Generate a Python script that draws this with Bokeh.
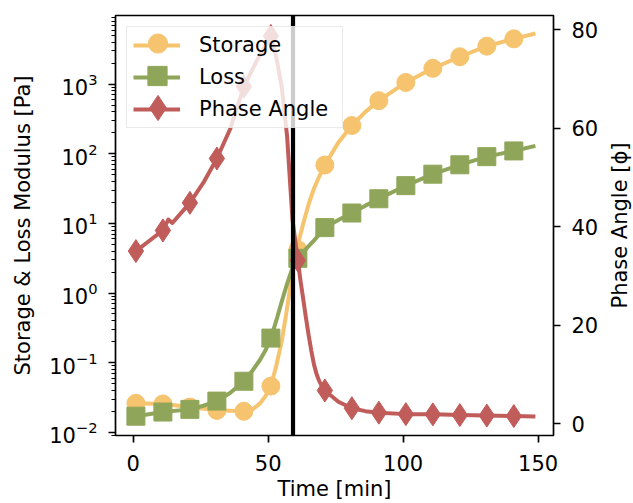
from bokeh.plotting import figure
from bokeh.layouts import row
from bokeh.models import (Range1d, LinearAxis, LinearScale, FixedTicker, Span, Legend,
                          LegendItem)
from bokeh.embed import file_html
from bokeh.resources import INLINE

# ---------------- data ----------------
marker_time = [1, 11, 21, 31, 41, 51, 61, 71, 81, 91, 101, 111, 121, 131, 141]
storage_markers = [0.026, 0.0255, 0.023, 0.0206, 0.0200, 0.046, 4.2, 69, 255, 580,
                   1060, 1690, 2480, 3520, 4480]
loss_markers = [0.017, 0.0195, 0.0213, 0.028, 0.054, 0.225, 3.15, 8.7, 14.1, 22.6,
                34.9, 51, 69.5, 91, 110]
phase_markers = [35.1, 39.3, 44.9, 53.9, 68.5, 78.8, 33.2, 6.8, 3.2, 2.3,
                 2.0, 1.95, 1.8, 1.7, 1.6]

storage_line_time = [1, 11, 21, 31, 36, 41, 44, 47, 49, 51, 53, 55, 57, 58, 59, 60, 61,
                     63, 65, 67, 69, 71, 76, 81, 86, 91, 101, 111, 121, 131, 141, 149]
storage_line = [0.026, 0.0255, 0.023, 0.0207, 0.0203, 0.020, 0.021, 0.026, 0.033, 0.046,
                0.09, 0.2, 0.6, 1.1, 2.1, 3.4, 5.0, 10, 19, 32, 48, 69, 145, 255, 400,
                580, 1060, 1690, 2480, 3520, 4480, 5350]

loss_line_time = [1, 11, 21, 26, 31, 36, 41, 44, 47, 49, 51, 53, 55, 57, 59, 61, 63, 65,
                  67, 69, 71, 76, 81, 86, 91, 101, 111, 121, 131, 141, 149]
loss_line = [0.017, 0.0195, 0.0213, 0.024, 0.028, 0.037, 0.054, 0.075, 0.11, 0.15, 0.225,
             0.4, 0.75, 1.35, 2.3, 3.2, 3.9, 4.7, 5.7, 7.0, 8.7, 11.2, 14.1, 18, 22.6,
             34.9, 51, 69.5, 91, 110, 130]

phase_line_time = [1, 6, 11, 13, 14.5, 21, 26, 31, 36, 41, 46, 51, 53, 55, 57, 59, 61, 62,
                   63, 64, 65, 66, 67, 68, 69, 70, 71, 76, 81, 86, 91, 101, 111, 121, 131,
                   141, 149]
phase_line = [35.1, 37.2, 39.3, 41.5, 40.8, 44.9, 49.0, 53.9, 60.0, 68.5, 74.0, 78.8, 74.5,
              68.5, 58.5, 41.5, 33.2, 29.0, 25.3, 21.5, 18.0, 14.8, 12.0, 10.0, 8.6, 7.6,
              6.8, 4.5, 3.2, 2.6, 2.3, 2.0, 1.95, 1.8, 1.7, 1.6, 1.5]

crossover_time = [59.2]

x_ticks = [0, 50, 100, 150]
phase_ticks = [0, 20, 40, 60, 80]

series_names = ["Storage", "Loss", "Phase Angle"]
x_label = "Time [min]"
y_label = "Storage & Loss Modulus [Pa]"
y2_label = "Phase Angle [ϕ]"

# ---------------- style ----------------
C_S = "#F6C36E"
C_L = "#8FA65A"
C_P = "#C05C5A"
FONT = "DejaVu Sans"
FS = "21px"

p = figure(width=602, height=503, output_backend="svg", toolbar_location=None,
           y_axis_type="log",
           x_range=Range1d(-6.56, 155.7),
           y_range=Range1d(10 ** -2.047, 10 ** 3.987),
           min_border_left=115, min_border_right=49,
           min_border_top=15, min_border_bottom=65)
p.extra_y_ranges = {"phase": Range1d(-2.34, 82.94)}
p.extra_y_scales = {"phase": LinearScale()}

p.xgrid.visible = False
p.ygrid.visible = False
p.outline_line_color = "black"
p.outline_line_width = 1.7
p.outline_line_alpha = 1.0
p.background_fill_color = "white"
p.border_fill_color = "white"

r_sl = p.line(storage_line_time, storage_line, line_color=C_S, line_width=4, line_join="round")
r_sm = p.scatter(marker_time, storage_markers, marker="circle", size=18,
                 fill_color=C_S, line_color=C_S, line_width=1)
r_ll = p.line(loss_line_time, loss_line, line_color=C_L, line_width=4, line_join="round")
r_lm = p.scatter(marker_time, loss_markers, marker="square", size=18,
                 fill_color=C_L, line_color=C_L, line_width=1)
r_pl = p.line(phase_line_time, phase_line, line_color=C_P, line_width=4, line_join="round",
              y_range_name="phase")
r_pm = p.scatter(marker_time, phase_markers, marker="diamond", size=23,
                 fill_color=C_P, line_color=C_P, line_width=1, y_range_name="phase")

p.add_layout(Span(location=crossover_time[0], dimension="height",
                  line_color="black", line_width=4.2))

ax2 = LinearAxis(y_range_name="phase", ticker=FixedTicker(ticks=phase_ticks))
p.add_layout(ax2, "right")

p.xaxis.ticker = FixedTicker(ticks=x_ticks)
p.xaxis.axis_label = x_label
p.yaxis[0].axis_label = y_label
p.yaxis[0].ticker.num_minor_ticks = 10


def style_axis(ax):
    ax.axis_line_color = None
    ax.major_tick_out = 7
    ax.major_tick_in = 0
    ax.major_tick_line_width = 1.7
    ax.major_tick_line_color = "black"
    ax.minor_tick_out = 4
    ax.minor_tick_in = 0
    ax.minor_tick_line_width = 1.2
    ax.minor_tick_line_color = "black"
    ax.major_label_text_font = FONT
    ax.major_label_text_font_size = FS
    ax.major_label_text_color = "black"
    ax.axis_label_text_font = FONT
    ax.axis_label_text_font_size = FS
    ax.axis_label_text_font_style = "normal"
    ax.axis_label_text_color = "black"


for ax in p.xaxis + p.yaxis:
    style_axis(ax)

p.xaxis.major_label_standoff = 12
p.xaxis.axis_label_standoff = 3
p.yaxis[0].major_label_standoff = 11
p.yaxis[0].axis_label_standoff = 11
ax2.major_label_standoff = 11

main_legend = Legend(
    items=[LegendItem(label=series_names[0], renderers=[r_sl]),
           LegendItem(label=series_names[1], renderers=[r_ll]),
           LegendItem(label=series_names[2], renderers=[r_pl])],
    location="top_left", margin=11, padding=6, spacing=8,
    glyph_width=47, glyph_height=24, label_standoff=19, label_width=137,
    label_text_font=FONT, label_text_font_size=FS, label_text_color="black",
    border_line_color="#d5d5d5", border_line_width=1.7,
    background_fill_color="white", background_fill_alpha=0.8)
p.add_layout(main_legend, "center")


def marker_legend(renderer, margin, gw, gh):
    return Legend(items=[LegendItem(label=" ", renderers=[renderer])],
                  location="top_left", margin=margin, padding=0, spacing=0,
                  glyph_width=gw, glyph_height=gh, label_standoff=0,
                  label_width=0, label_height=0, label_text_font_size="1px",
                  border_line_alpha=0, background_fill_alpha=0)


p.add_layout(marker_legend(r_sm, 4, 77, 48), "center")
p.add_layout(marker_legend(r_lm, 18, 48, 85), "center")
p.add_layout(marker_legend(r_pm, 11, 63, 163), "center")

# narrow strip carrying the right-hand axis title (reads bottom to top)
p2 = figure(width=31, height=503, output_backend="svg", toolbar_location=None,
            x_range=Range1d(0, 1), y_range=Range1d(0, 1),
            min_border_left=29, min_border_right=0,
            min_border_top=15, min_border_bottom=65)
p2.xaxis.visible = False
p2.xgrid.visible = False
p2.ygrid.visible = False
p2.outline_line_color = None
p2.background_fill_color = "white"
p2.border_fill_color = "white"
p2.yaxis.ticker = FixedTicker(ticks=[])
p2.yaxis.axis_label = y2_label
for ax in p2.yaxis:
    style_axis(ax)
    ax.major_tick_out = 0
    ax.minor_tick_out = 0
    ax.major_label_standoff = 0
    ax.axis_label_standoff = 0

layout = row(p, p2, spacing=0)
open("out.html", "w").write(file_html(layout, INLINE))
